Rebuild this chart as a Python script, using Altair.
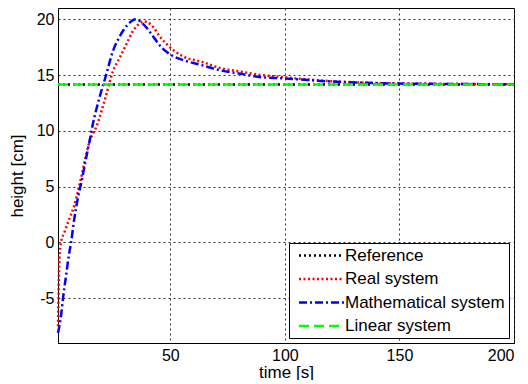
import altair as alt
import pandas as pd

# Real system (red dotted)
real_t = [1, 1.3, 1.6, 2.3, 3.8, 5.9, 8.1, 9.6, 11, 12.9, 14.7, 17.8, 22, 24.9, 27.8, 30.7, 33.6, 36.5, 38.5,
          41.6, 46, 50.3, 56.2, 63.4, 72.2, 80.9, 89.6, 99.8, 110, 120, 130, 140, 150, 170, 200]
real_y = [-7.5, -4.0, -1.5, 0.0, 0.9, 2.1, 3.3, 4.5, 5.7, 7.5, 9.0, 10.4, 13.2, 15.3, 16.5, 17.7, 18.9, 19.6, 19.8,
          19.5, 18.3, 17.4, 16.6, 16.2, 15.6, 15.3, 15.0, 14.8, 14.6, 14.45, 14.35, 14.28, 14.24, 14.2, 14.17]

# Mathematical system (blue dash-dot)
math_t = [1, 2.3, 3.3, 4.5, 5.7, 6.7, 8.1, 9.6, 11.5, 13.2, 14.7, 16.1, 19.0, 22, 24.9, 27.8, 31.4, 35, 38,
          42, 46, 50.3, 56.2, 63.4, 72.2, 80.9, 89.6, 99.8, 110, 120, 130, 140, 150, 170, 200]
math_y = [-8.1, -6.6, -4.8, -3.0, -1.2, 0.0, 2.1, 3.9, 5.7, 7.5, 9.0, 10.5, 12.9, 15.0, 17.1, 18.4, 19.5, 20.0, 19.6,
          18.6, 17.5, 16.8, 16.3, 15.9, 15.4, 15.1, 14.8, 14.7, 14.55, 14.42, 14.33, 14.27, 14.23, 14.2, 14.17]

# Reference and linear system (constant level)
ref_t = [1, 200]
ref_y = [14.16, 14.16]
lin_t = [1, 200]
lin_y = [14.16, 14.16]

series = ["Reference", "Real system", "Mathematical system", "Linear system"]
colors = ["#000000", "#FF0000", "#0000FF", "#00FF00"]
dashes = [[2, 3], [2, 2.5], [8, 3, 2, 3], [10, 5]]

rows = []
for name, ts, ys in [("Reference", ref_t, ref_y), ("Real system", real_t, real_y),
                     ("Mathematical system", math_t, math_y), ("Linear system", lin_t, lin_y)]:
    for i, (t, y) in enumerate(zip(ts, ys)):
        rows.append({"time": t, "height": y, "series": name, "idx": i})
df = pd.DataFrame(rows)

minus_fix = "replace(datum.label, '\u2212', '-')"

chart = alt.Chart(df).mark_line(strokeWidth=2.5, interpolate="monotone").encode(
    x=alt.X("time:Q", title="time [s]",
            scale=alt.Scale(domain=[1, 200], nice=False, zero=False),
            axis=alt.Axis(values=[50, 100, 150, 200], labelExpr=minus_fix)),
    y=alt.Y("height:Q", title="height [cm]",
            scale=alt.Scale(domain=[-9, 21], nice=False, zero=False),
            axis=alt.Axis(values=[-5, 0, 5, 10, 15, 20], labelExpr=minus_fix)),
    color=alt.Color("series:N", scale=alt.Scale(domain=series, range=colors),
                    legend=alt.Legend(title=None, orient="none", legendX=231, legendY=235,
                                      fillColor="white", strokeColor="black", padding=4,
                                      symbolType="M-5,0H5", symbolSize=81, symbolStrokeWidth=2.5,
                                      symbolOffset=20, labelOffset=15, labelFontSize=17,
                                      labelFont="Liberation Sans", labelColor="black",
                                      rowPadding=5.5, labelLimit=300)),
    strokeDash=alt.StrokeDash("series:N", scale=alt.Scale(domain=series, range=dashes),
                              legend=alt.Legend(title=None, orient="none", legendX=231, legendY=235)),
    order="idx:Q",
).properties(width=456, height=335, padding=0).configure_view(
    stroke="black", strokeWidth=1
).configure_axis(
    domainColor="black", ticks=False, labelFont="Liberation Sans", labelFontSize=16,
    labelColor="black", titleFont="Liberation Sans", titleFontSize=17, titleFontWeight="normal",
    titleColor="black", grid=True, gridColor="#333333", gridDash=[2, 3], gridOpacity=1,
    labelPadding=4
).configure_axisY(titlePadding=10).configure_axisX(titlePadding=1)

chart.save("out.html", embed_options={"renderer": "svg", "actions": False})
